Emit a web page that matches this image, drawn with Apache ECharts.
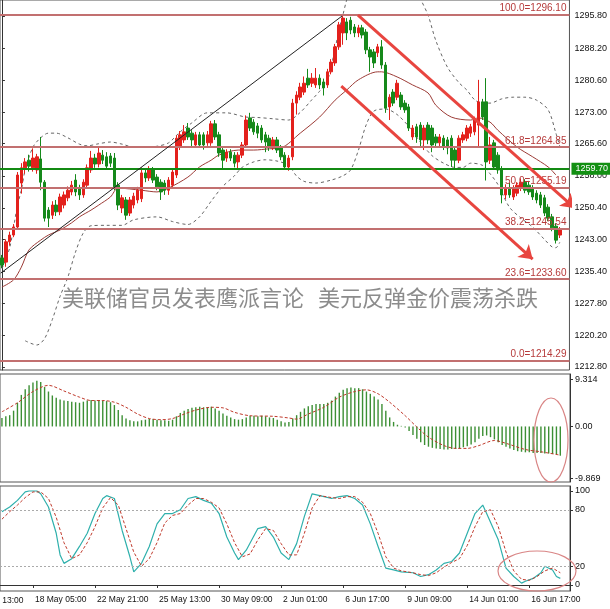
<!DOCTYPE html>
<html><head><meta charset="utf-8">
<script src="https://cdn.jsdelivr.net/npm/echarts@6/dist/echarts.min.js"></script>
<style>html,body{margin:0;padding:0;background:#fff}#c{width:610px;height:609px}</style>
</head><body><div id="c"></div>
<script>
// ---------- data ----------
const tickLabels = ['18 May 05:00','22 May 21:00','25 May 13:00','30 May 09:00','2 Jun 01:00','6 Jun 17:00','9 Jun 09:00','14 Jun 01:00','16 Jun 17:00'];
const leftCutLabel = '15 May 13:00';
const firstTick = 8, tickStep = 16;

const opens  = [1238.6,1237.6,1242.4,1244.0,1245.9,1256.3,1259.9,1261.7,1259.9,1259.4,1262.0,1256.5,1249.9,1248.7,1251.1,1249.5,1251.1,1252.8,1254.2,1257.0,1255.1,1253.5,1255.8,1259.4,1262.2,1260.8,1262.9,1262.5,1262.7,1262.2,1255.8,1250.4,1252.3,1249.2,1251.1,1252.3,1252.6,1258.7,1257.5,1259.4,1257.7,1256.5,1256.3,1254.6,1255.8,1258.2,1264.8,1266.5,1269.3,1268.1,1265.3,1267.7,1267.7,1265.8,1265.8,1270.3,1267.7,1264.1,1262.2,1263.6,1262.9,1261.3,1262.9,1265.3,1271.7,1270.7,1269.8,1269.3,1267.7,1266.9,1264.8,1266.5,1264.6,1262.9,1260.1,1262.5,1275.2,1276.6,1277.8,1281.1,1279.9,1279.5,1281.1,1280.2,1279.5,1282.6,1284.7,1288.5,1291.8,1294.4,1294.8,1293.2,1291.8,1293.0,1292.0,1287.8,1287.3,1287.1,1288.5,1284.2,1274.3,1277.8,1276.6,1277.1,1275.2,1274.3,1267.2,1269.6,1270.0,1266.5,1270.0,1269.3,1267.2,1265.8,1266.9,1266.5,1266.9,1264.1,1261.7,1266.5,1266.9,1268.1,1268.4,1270.0,1275.5,1275.5,1261.7,1265.8,1262.9,1259.6,1253.5,1255.1,1253.0,1253.9,1255.1,1256.5,1255.8,1255.1,1253.9,1253.5,1252.8,1250.6,1248.3,1246.1,1244.0];
const closes = [1236.9,1242.4,1244.0,1245.9,1258.2,1259.9,1261.3,1260.3,1262.2,1262.5,1256.5,1248.0,1248.0,1251.1,1249.5,1253.0,1253.5,1254.6,1255.8,1254.2,1253.5,1256.5,1259.9,1262.2,1260.8,1263.4,1261.7,1260.3,1261.0,1255.4,1251.1,1252.8,1248.7,1252.3,1253.2,1254.6,1258.7,1257.5,1259.4,1257.0,1255.4,1254.2,1254.6,1257.0,1258.9,1266.9,1267.7,1268.4,1267.2,1266.5,1267.7,1265.3,1265.3,1267.7,1270.3,1267.2,1263.4,1261.7,1263.6,1262.2,1261.0,1262.9,1265.3,1271.2,1269.3,1268.4,1268.1,1266.5,1266.0,1264.8,1266.5,1264.1,1262.5,1260.1,1262.2,1275.2,1277.1,1279.0,1279.9,1279.5,1281.1,1281.1,1279.5,1278.8,1282.6,1284.9,1288.5,1293.7,1295.3,1291.8,1292.5,1291.8,1293.0,1291.3,1287.8,1286.1,1284.7,1288.5,1284.2,1274.0,1276.6,1275.2,1279.9,1274.3,1273.6,1269.3,1269.3,1267.2,1266.5,1269.3,1266.5,1265.3,1265.8,1267.2,1264.8,1264.6,1261.7,1261.7,1266.9,1267.7,1269.3,1269.6,1271.2,1275.5,1271.9,1261.3,1265.3,1260.1,1259.4,1253.5,1255.1,1253.5,1255.1,1255.8,1256.5,1254.6,1254.2,1253.0,1252.3,1251.1,1249.2,1248.0,1245.7,1242.8,1245.26];
const highs  = [1239.3,1243.0,1244.8,1246.6,1258.9,1261.0,1262.2,1263.0,1264.5,1263.2,1267.2,1257.0,1250.6,1252.0,1252.3,1253.8,1254.3,1255.5,1256.8,1258.4,1255.9,1257.2,1260.7,1263.9,1263.2,1264.6,1264.1,1263.6,1263.4,1263.4,1256.5,1253.5,1253.0,1253.0,1254.0,1255.4,1260.0,1259.6,1260.3,1260.1,1258.4,1257.2,1257.0,1257.7,1259.6,1267.6,1268.6,1270.0,1270.5,1268.8,1268.4,1268.4,1268.3,1268.6,1271.0,1271.2,1268.4,1264.8,1264.3,1264.3,1263.6,1263.6,1266.0,1272.3,1272.9,1271.4,1270.5,1270.0,1268.4,1267.7,1267.2,1267.2,1265.3,1263.6,1262.9,1276.2,1278.0,1280.0,1281.5,1283.3,1282.3,1283.5,1282.0,1281.0,1283.3,1285.6,1289.2,1294.4,1296.1,1295.3,1295.6,1293.9,1293.7,1293.7,1292.7,1288.5,1288.0,1289.2,1290.1,1284.9,1277.3,1278.5,1280.7,1277.8,1275.9,1275.0,1270.0,1270.3,1270.7,1270.0,1270.7,1270.0,1267.9,1267.9,1267.6,1267.2,1267.6,1264.8,1267.6,1268.4,1270.0,1270.3,1272.0,1280.7,1276.2,1281.1,1267.2,1266.5,1263.6,1260.3,1256.0,1256.3,1255.8,1256.5,1257.4,1257.2,1256.8,1255.8,1254.6,1254.2,1253.5,1251.3,1249.0,1246.8,1245.9];
const lows   = [1236.2,1236.5,1241.5,1243.5,1245.5,1253.8,1258.5,1259.0,1259.0,1258.5,1254.6,1247.2,1245.9,1247.8,1248.5,1248.7,1250.3,1252.0,1253.4,1253.2,1252.3,1252.8,1255.1,1258.7,1259.9,1260.0,1260.8,1259.4,1260.1,1254.6,1249.9,1249.2,1247.6,1248.5,1250.3,1251.5,1251.8,1256.5,1256.8,1256.3,1254.6,1252.3,1253.5,1253.5,1255.1,1257.5,1264.1,1265.8,1266.5,1264.8,1264.6,1264.6,1264.2,1265.1,1265.1,1266.5,1262.5,1259.4,1261.3,1261.5,1260.0,1259.4,1262.2,1264.6,1268.6,1267.7,1266.9,1265.8,1263.6,1263.9,1264.1,1263.4,1261.7,1259.4,1259.2,1261.7,1272.5,1275.9,1277.1,1278.8,1279.0,1278.8,1278.5,1277.0,1278.8,1282.0,1284.0,1287.8,1289.0,1290.1,1291.5,1290.8,1290.8,1290.5,1286.8,1282.6,1283.5,1286.1,1283.3,1272.9,1271.2,1274.5,1275.9,1273.6,1272.9,1268.6,1266.5,1265.8,1264.8,1264.1,1265.5,1263.6,1264.6,1264.8,1264.1,1263.1,1260.1,1259.4,1261.0,1265.8,1266.2,1267.2,1267.6,1264.8,1271.2,1256.9,1260.8,1259.4,1258.5,1251.5,1252.5,1252.8,1252.3,1253.2,1254.4,1253.9,1253.5,1252.3,1251.5,1250.4,1248.5,1247.3,1244.9,1242.0,1243.3];

// moving average (solid brown) and band lines (dashed), read as [bar, price]
const maLine = [[0,1231.7],[3,1233.4],[5,1236.4],[7,1240.5],[10,1242.8],[12,1244.0],[15,1245.2],[18,1246.9],[20,1248.3],[23,1249.9],[25,1251.1],[28,1253.0],[30,1255.1],[36,1254.6],[40,1254.2],[43,1255.1],[48,1257.7],[51,1260.1],[54,1261.7],[56,1262.9],[61,1264.1],[65,1264.1],[69,1264.4],[72,1264.6],[77,1268.1],[82,1271.9],[86,1275.9],[89,1278.3],[92,1280.7],[97,1282.6],[98,1282.6],[102,1281.4],[106,1279.5],[110,1277.6],[112,1274.7],[116,1271.9],[121,1271.2],[123,1271.7],[126,1270.7],[128,1268.8],[133,1264.8],[137,1262.5],[141,1260.1],[143,1258.2]];
const bandUpper = [[0,1236],[2,1241],[4,1251],[5,1254.6],[6,1259.4],[8,1264.8],[10,1267],[12,1268.1],[14,1268.1],[17,1267],[20,1265.5],[22,1265.1],[25,1265.6],[28,1266],[31,1265.5],[34,1264.8],[37,1264.8],[40,1265],[43,1265.8],[46,1268.4],[49,1270.5],[53,1272.9],[58,1272.9],[63,1271.9],[66,1271.8],[70,1271.5],[74,1271.2],[77,1273],[80,1276],[82,1278],[84,1280.5],[85,1284],[86,1288],[87,1292.5],[88,1296],[89,1299.6],[91,1305],[106,1305],[108,1300],[110,1296],[112,1290],[115,1283.7],[118,1280],[120,1278.3],[122,1276],[124,1275.2],[126,1275.2],[129,1276.2],[132,1276.6],[135,1276.6],[138,1275.9],[141,1273.6],[143,1268.1],[144,1265]];
const bandLower = [[6,1219],[9,1218],[11,1219.5],[13,1224],[15,1229.5],[17,1234],[19,1240],[21,1244.5],[23,1246.2],[27,1246.3],[31,1246.3],[34,1247.6],[40,1248.3],[44,1247.2],[48,1246.5],[51,1248.3],[54,1252],[57,1255.5],[60,1258],[62,1260],[65,1261.3],[68,1261.8],[71,1261.5],[74,1260.5],[76,1258],[78,1256.7],[81,1256.3],[85,1257],[88,1258],[90,1259.4],[92,1264],[94,1270],[96,1273.3],[99,1273.8],[102,1272.5],[105,1269.7],[108,1266],[111,1262.8],[114,1261],[117,1260],[119,1260],[121,1261],[124,1260.5],[126,1258.5],[128,1256],[131,1250.6],[134,1248],[137,1245.9],[140,1243],[142,1241.2],[143,1241],[144,1242.3]];

// fibonacci levels and reference lines
const fibLevels = [['100.0',1296.10],['61.8',1264.85],['50.0',1255.19],['38.2',1245.54],['23.6',1233.60],['0.0',1214.29]];
const greenLevel = 1259.70;
const lastPrice = 1245.26;
const priceTicks = [1212.80,1220.20,1227.80,1235.40,1243.00,1250.40,1258.00,1265.60,1273.00,1280.60,1288.20,1295.80];
const trendLine = [[-0.3,1235.0],[87.8,1295.8]];
const arrowUpper = [[91.9,1296.0],[147.8,1250.4]];
const arrowLower = [[87.6,1279.2],[137.0,1238.3]];

// MACD
const macdHist = [1.5,1.8,2.0,2.8,4.2,5.6,6.6,7.3,7.8,8.1,7.9,7.0,6.2,5.5,5.1,4.8,4.6,4.5,4.4,4.3,4.2,4.4,4.6,4.7,4.6,4.7,4.6,4.5,4.3,3.8,2.9,2.0,1.4,1.1,0.9,0.9,1.1,1.2,1.3,1.3,1.2,1.1,1.1,1.0,1.2,1.8,2.4,2.8,3.1,3.3,3.4,3.5,3.4,3.4,3.5,3.2,2.8,2.3,1.9,1.6,1.3,1.2,1.3,1.6,1.9,1.9,1.8,1.9,1.8,1.6,1.5,1.2,0.9,0.7,0.8,1.4,2.0,2.6,3.2,3.6,3.8,4.0,4.0,4.0,4.2,4.6,5.3,6.0,6.5,6.8,6.9,6.8,6.8,6.6,6.2,5.8,5.3,4.8,4.0,2.8,1.6,0.8,0.3,0.1,-0.2,-0.8,-1.5,-2.2,-2.8,-3.3,-3.6,-3.8,-3.9,-4.0,-4.1,-4.1,-4.0,-4.0,-3.9,-3.7,-3.5,-3.2,-2.8,-2.2,-1.7,-1.6,-1.9,-2.3,-2.8,-3.3,-3.6,-3.9,-4.2,-4.4,-4.5,-4.6,-4.6,-4.7,-4.7,-4.7,-4.8,-4.8,-4.9,-5.0,-5.2];
const macdSignal = [[0,2.6],[4,4.2],[8,6.2],[12,7.3],[16,6.3],[20,5.2],[23,4.6],[26,4.6],[29,4.3],[32,3.4],[35,2.2],[38,1.4],[41,1.2],[44,1.4],[47,2.2],[50,2.9],[54,3.4],[57,3.3],[60,2.5],[64,1.9],[70,1.8],[74,1.5],[76,1.3],[79,2.2],[83,3.4],[87,5.2],[91,6.2],[94,6.5],[97,5.8],[100,4.3],[104,1.9],[107,-0.1],[110,-1.9],[114,-3.4],[117,-3.9],[120,-3.9],[123,-3.4],[127,-2.5],[130,-3.0],[135,-4.1],[139,-4.5],[144,-5.1]];
const macdMax = 9.314, macdMin = -9.869;

// Stochastic
const stochK = [[0,78],[2,83],[4,90],[6,99],[7,100],[9,100],[10,97],[12,83],[14,55],[15,32],[16,23],[18,28],[20,41],[22,55],[24,76],[26,92],[27,95],[29,92],[31,58],[33,30],[34,14],[36,23],[38,41],[40,65],[42,76],[44,76],[46,80],[48,92],[50,94],[52,90],[54,87],[56,76],[58,51],[60,34],[61,27],[63,37],[66,60],[68,62],[70,51],[72,34],[74,27],[76,44],[78,73],[80,97],[82,95],[85,92],[87,94],[89,95],[91,92],[93,85],[95,65],[97,41],[99,18],[101,16],[103,14],[106,13],[108,9],[110,11],[112,16],[114,23],[116,25],[118,34],[120,55],[122,76],[124,85],[125,76],[128,48],[130,18],[132,9],[134,2],[135,4],[137,7],[139,13],[140,20],[142,16],[143,9],[144,7]];
const stochD = [[0,70],[2,78],[4,85],[6,93],[8,99],[10,99],[12,92],[14,72],[16,45],[18,28],[20,32],[22,45],[24,62],[26,82],[28,93],[30,85],[32,60],[34,35],[36,20],[38,28],[40,45],[42,66],[44,74],[46,76],[48,85],[50,92],[52,92],[54,88],[56,82],[58,65],[60,45],[62,30],[64,33],[66,48],[68,60],[70,58],[72,44],[74,32],[76,32],[78,55],[80,82],[82,95],[85,93],[87,92],[89,94],[91,94],[93,88],[95,76],[97,55],[99,30],[101,18],[103,15],[106,13],[108,11],[110,10],[112,13],[114,19],[116,24],[118,28],[120,42],[122,62],[124,78],[126,80],[128,62],[130,35],[132,15],[134,6],[136,5],[138,9],[140,15],[142,18],[144,13]];
const stochLevels = [20, 80];
const stochTicks = [0, 20, 80, 100];

const headline = ['美联储官员发表鹰派言论', '美元反弹金价震荡杀跌'];

// ---------- chart ----------
const EXTRA = 2;
const cats = opens.map((_, i) => String(i));
for (let k = 0; k < EXTRA; k++) cats.push('');
const NC = cats.length;
const candles = opens.map((o, i) => [o, closes[i], lows[i], highs[i]]);

const GL = -1, GW = 571;
const mainTop = 0, mainH = 370;
// 1295.8 at y=16 and 1212.8 at y=367
const ppu = (367 - 16) / (1295.8 - 1212.8);
const mainMax = 1295.8 + 16 / ppu;
const mainMin = mainMax - mainH / ppu;

const axisFont = 'Liberation Sans, Arial, sans-serif';
const tickFn = (idx) => idx >= firstTick && (idx - firstTick) % tickStep === 0 && idx < opens.length;

const catAxis = (gi, showLabels) => ({
  type: 'category', gridIndex: gi, data: cats, boundaryGap: true,
  axisLine: { show: showLabels, lineStyle: { color: '#333' } },
  axisTick: showLabels ? { show: true, interval: (i) => tickFn(i), alignWithLabel: true, length: 3, lineStyle: { color: '#333' } } : { show: false },
  axisLabel: showLabels ? {
    show: true, interval: (i) => tickFn(i), align: 'left', margin: 4, padding: [0,0,0,2],
    fontSize: 8.5, fontFamily: axisFont, color: '#111',
    formatter: (v, i) => tickLabels[(i - firstTick) / tickStep] || ''
  } : { show: false },
  splitLine: { show: false }
});

const option = {
  animation: false,
  backgroundColor: '#fff',
  grid: [
    { left: GL, top: mainTop, width: GW, height: mainH, show: true, borderColor: '#555', borderWidth: 1, backgroundColor: 'transparent' },
    { left: GL, top: 374, width: GW, height: 108, show: true, borderColor: '#555', borderWidth: 1 },
    { left: GL, top: 486, width: GW, height: 105, show: true, borderColor: '#555', borderWidth: 1 }
  ],
  xAxis: [
    catAxis(0, false), catAxis(1, false), catAxis(2, true),
    { type: 'value', gridIndex: 0, min: -0.5, max: NC - 0.5, show: false }
  ],
  yAxis: [
    { type: 'value', gridIndex: 0, position: 'right', min: mainMin, max: mainMax, scale: true,
      axisLine: { show: true, lineStyle: { color: '#333' } },
      axisTick: { show: true, length: 3, customValues: priceTicks, lineStyle: { color: '#333' } },
      axisLabel: { show: true, customValues: priceTicks, margin: 5, fontSize: 9, fontFamily: axisFont, color: '#111', formatter: v => v.toFixed(2) },
      splitLine: { show: false } },
    { type: 'value', gridIndex: 1, position: 'right', min: macdMin, max: macdMax,
      axisLine: { show: true, lineStyle: { color: '#333' } },
      axisTick: { show: true, length: 3, customValues: [macdMax - 1.0, 0, macdMin + 0.6], lineStyle: { color: '#333' } },
      axisLabel: { show: true, customValues: [macdMax - 1.0, 0, macdMin + 0.6], margin: 5, fontSize: 9, fontFamily: axisFont, color: '#111',
        formatter: v => v > 1 ? macdMax.toFixed(3) : (v < -1 ? macdMin.toFixed(3) : '0.00') },
      splitLine: { show: false } },
    { type: 'value', gridIndex: 2, position: 'right', min: -6.4, max: 105.3,
      axisLine: { show: true, lineStyle: { color: '#333' } },
      axisTick: { show: true, length: 3, customValues: stochTicks, lineStyle: { color: '#333' } },
      axisLabel: { show: true, customValues: stochTicks, margin: 5, fontSize: 9, fontFamily: axisFont, color: '#111' },
      splitLine: { show: false } }
  ],
  series: [
    { type: 'line', xAxisIndex: 0, yAxisIndex: 0, data: bandUpper, showSymbol: false, symbol: 'none', smooth: 0.3,
      lineStyle: { color: '#666', width: 1, type: [3, 3] }, z: 2 },
    { type: 'line', xAxisIndex: 0, yAxisIndex: 0, data: bandLower, showSymbol: false, symbol: 'none', smooth: 0.3,
      lineStyle: { color: '#666', width: 1, type: [3, 3] }, z: 2 },
    { type: 'line', xAxisIndex: 0, yAxisIndex: 0, data: maLine, showSymbol: false, symbol: 'none', smooth: 0.3,
      lineStyle: { color: '#9c3b36', width: 1 }, z: 3 },
    { type: 'candlestick', xAxisIndex: 0, yAxisIndex: 0, data: candles, barWidth: 3, z: 4,
      itemStyle: { color: '#e3211c', color0: '#15891a', borderColor: '#e3211c', borderColor0: '#15891a', borderWidth: 1 },
      markLine: {
        silent: true, symbol: ['none', 'none'], animation: false, precision: 2,
        data: fibLevels.map(([lv, p]) => ({
          yAxis: p,
          lineStyle: { color: '#c27070', width: 2, type: 'solid' },
          label: { show: true, position: 'insideEndTop', distance: [3, 1], formatter: lv + '=' + p.toFixed(2), color: '#b63a3a', fontSize: 10, fontFamily: axisFont }
        })).concat([
          { yAxis: greenLevel, lineStyle: { color: '#138a13', width: 2, type: 'solid' },
            label: { show: true, position: 'end', distance: 2, formatter: greenLevel.toFixed(2), color: '#fff', backgroundColor: '#139013', padding: [2, 4, 1, 4], fontSize: 9, fontFamily: axisFont } },
          { yAxis: lastPrice, lineStyle: { opacity: 0, width: 0 },
            label: { show: true, position: 'end', distance: 2, formatter: lastPrice.toFixed(2), color: '#fff', backgroundColor: '#000', padding: [2, 4, 1, 4], fontSize: 9, fontFamily: axisFont } }
        ])
      }
    },
    { type: 'lines', coordinateSystem: 'cartesian2d', xAxisIndex: 3, yAxisIndex: 0, z: 5,
      data: [{ coords: trendLine }], symbol: ['none', 'none'],
      lineStyle: { color: '#222', width: 1, opacity: 1 } },
    { type: 'lines', coordinateSystem: 'cartesian2d', xAxisIndex: 3, yAxisIndex: 0, z: 6,
      data: [{ coords: arrowUpper }, { coords: arrowLower }], symbol: ['none', 'arrow'], symbolSize: 13,
      lineStyle: { color: '#e8453f', width: 3, opacity: 1 } },
    // MACD
    { type: 'bar', xAxisIndex: 1, yAxisIndex: 1, data: macdHist, barWidth: 1.4, itemStyle: { color: '#3c8f34' } },
    { type: 'line', xAxisIndex: 1, yAxisIndex: 1, data: macdSignal, symbol: 'none', smooth: 0.3,
      lineStyle: { color: '#c0392b', width: 1, type: [3, 2] } },
    // Stochastic
    { type: 'line', xAxisIndex: 2, yAxisIndex: 2, data: stochK, symbol: 'none',
      lineStyle: { color: '#2fb0ac', width: 1.2 },
      markLine: { silent: true, symbol: ['none', 'none'], label: { show: false },
        lineStyle: { color: '#aaa', type: [2, 2], width: 1 }, data: stochLevels.map(v => ({ yAxis: v })) } },
    { type: 'line', xAxisIndex: 2, yAxisIndex: 2, data: stochD, symbol: 'none',
      lineStyle: { color: '#c0392b', width: 1, type: [3, 2] } }
  ],
  graphic: [
    { type: 'text', left: 62, top: 287, z: 10, style: { text: headline[0], font: '22px "Noto Sans CJK SC"', fill: '#8c8c8c' } },
    { type: 'text', left: 318, top: 287, z: 10, style: { text: headline[1], font: '22px "Noto Sans CJK SC"', fill: '#8c8c8c' } },
    { type: 'text', left: -28, top: 596, z: 10, style: { text: leftCutLabel, font: '8.5px Liberation Sans', fill: '#111' } },
    { type: 'ellipse', z: 10, shape: { cx: 551, cy: 440, rx: 17, ry: 42 }, style: { fill: 'none', stroke: '#d98585', lineWidth: 1.2 } },
    { type: 'ellipse', z: 10, shape: { cx: 537, cy: 571, rx: 39, ry: 20 }, style: { fill: 'none', stroke: '#d98585', lineWidth: 1.2 } }
  ]
};
const chart = echarts.init(document.getElementById('c'), null, { renderer: 'canvas' });
chart.setOption(option);
</script>
</body></html>
